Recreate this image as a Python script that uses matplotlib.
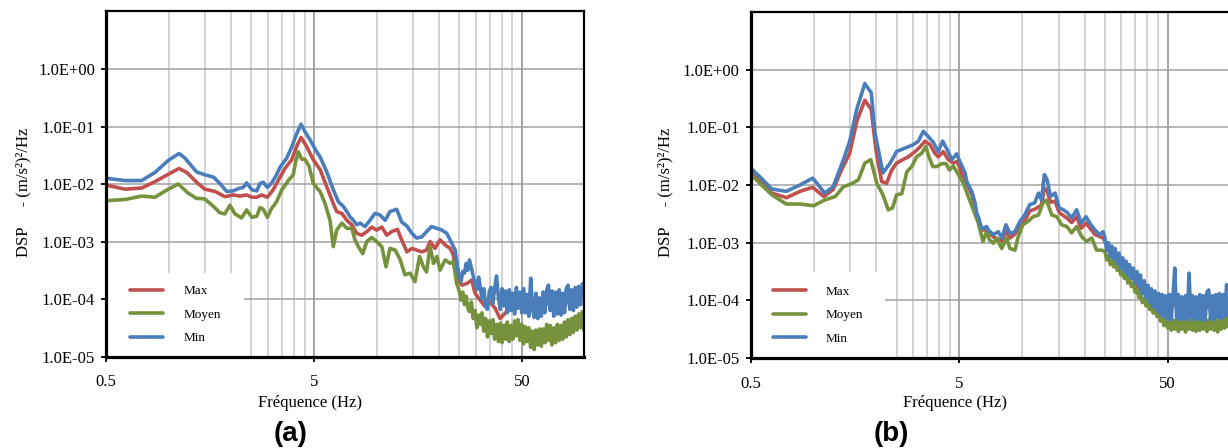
import numpy as np
import matplotlib
matplotlib.use("Agg")
import matplotlib.pyplot as plt
from matplotlib.patches import Rectangle
from matplotlib.ticker import FixedLocator, FixedFormatter, NullLocator, NullFormatter

plt.rcParams['font.family'] = ['Liberation Serif', 'DejaVu Serif']

# ---------------- data ----------------
# low/mid frequency part: (frequency Hz, log10 DSP) pairs
# high frequency part: log10 DSP on the shared frequency list hf_freq
series_labels = ["Max", "Moyen", "Min"]
series_colors = ["#C0504D", "#76923C", "#4A7EBB"]
panel_labels = ["(a)", "(b)"]

x_tick_values = [0.5, 5, 50]
x_tick_labels = ["0.5", "5", "50"]
y_tick_values = [1e-5, 1e-4, 1e-3, 1e-2, 1e-1, 1e0]
y_tick_labels = ["1.0E-05", "1.0E-04", "1.0E-03", "1.0E-02", "1.0E-01", "1.0E+00"]
x_minor_grid = [1, 1.5, 2, 2.5, 3, 3.5, 4, 4.5, 10, 15, 20, 25, 30, 35, 40, 45]

hf_freq = [25.0, 25.5, 26.0, 26.5, 27.0, 27.5, 28.0, 28.6, 29.2, 29.8,
           30.4, 31.0, 31.6, 32.2, 32.8, 33.5, 34.2, 34.9, 35.6, 36.3,
           37.0, 37.8, 38.6, 39.4, 40.2, 41.0, 41.8, 42.6, 43.5, 44.4,
           45.3, 46.2, 47.1, 48.0, 49.0, 50.0, 51.0, 52.0, 53.0, 54.1,
           55.2, 56.3, 57.4, 58.5, 59.7, 60.9, 62.1, 63.3, 64.6, 65.9,
           67.2, 68.5, 69.9, 71.3, 72.7, 74.2, 75.7, 77.2, 78.7, 80.3,
           81.9, 83.5, 85.2, 86.9, 88.6, 90.4, 92.2, 94.0, 95.9, 97.8,
           99.7]

# ---- panel (a) ----
a_max = [(0.5, -2.02), (0.615, -2.09), (0.74, -2.07), (0.857, -1.96), (0.994, -1.83), (1.12, -1.73),
         (1.22, -1.80), (1.39, -2.00), (1.49, -2.09), (1.67, -2.13), (1.86, -2.22), (2.04, -2.19),
         (2.20, -2.21), (2.37, -2.19), (2.51, -2.23), (2.65, -2.23), (2.80, -2.19), (2.98, -2.23),
         (3.18, -2.10), (3.37, -1.93), (3.62, -1.73), (3.90, -1.58), (4.13, -1.34), (4.33, -1.19),
         (4.61, -1.35), (4.96, -1.58), (5.35, -1.75), (5.76, -2.05), (6.19, -2.34), (6.43, -2.48),
         (6.80, -2.51), (7.19, -2.63), (7.60, -2.71), (8.03, -2.86), (8.49, -2.89), (8.97, -2.83),
         (9.48, -2.75), (10.0, -2.80), (10.6, -2.75), (11.2, -2.89), (11.8, -2.83), (12.6, -2.79),
         (13.2, -2.97), (14.0, -3.18), (14.8, -3.12), (15.6, -3.15), (16.5, -3.18), (17.4, -3.15),
         (18.1, -3.00), (19.1, -3.12), (20.2, -2.97), (21.4, -3.06), (22.6, -3.12), (23.4, -3.23),
         (24.3, -3.61), (25.7, -3.76), (27.2, -3.73), (28.7, -3.67), (29.8, -3.90), (31.5, -4.02),
         (33.3, -4.13), (35.2, -4.05), (37.2, -4.16), (39.3, -4.34), (41.5, -4.25), (44.8, -4.12),
         (47.3, -4.05), (50.0, -4.15), (52.8, -4.10), (56.9, -4.20), (60.1, -4.25), (63.5, -4.15),
         (67.2, -4.05), (71.0, -4.18), (75.0, -4.10), (79.3, -4.15), (83.8, -4.02), (88.6, -4.08),
         (93.7, -3.98), (100, -3.90)]

a_moyen_low = [(0.5, -2.29), (0.615, -2.27), (0.74, -2.21), (0.857, -2.23), (0.994, -2.09), (1.11, -2.00),
               (1.24, -2.16), (1.36, -2.25), (1.49, -2.26), (1.64, -2.39), (1.76, -2.50), (1.86, -2.52),
               (1.97, -2.37), (2.08, -2.52), (2.24, -2.59), (2.37, -2.45), (2.51, -2.58), (2.65, -2.56),
               (2.75, -2.41), (2.85, -2.44), (2.98, -2.58), (3.13, -2.42), (3.30, -2.31), (3.50, -2.10),
               (3.76, -1.94), (3.97, -1.84), (4.08, -1.61), (4.20, -1.44), (4.36, -1.57), (4.52, -1.57),
               (4.73, -1.69), (4.96, -1.99), (5.25, -2.10), (5.35, -2.13), (5.65, -2.34), (5.97, -2.63),
               (6.19, -3.09), (6.43, -2.80), (6.80, -2.68), (7.19, -2.77), (7.60, -2.77), (7.87, -2.97),
               (8.17, -3.09), (8.58, -3.21), (8.97, -3.00), (9.48, -2.93), (10.0, -3.00), (10.6, -3.09),
               (11.1, -3.44), (11.6, -3.12), (12.3, -3.15), (13.0, -3.32), (13.7, -3.58), (14.5, -3.55),
               (15.3, -3.70), (16.1, -3.26), (16.8, -3.44), (17.4, -3.53), (18.1, -3.09), (18.8, -3.38),
               (19.5, -3.26), (20.2, -3.50), (21.4, -3.32), (22.6, -3.38), (23.4, -3.35), (24.3, -3.73)]
a_moyen_hf = [-3.86, -4.02, -3.88, -4.10, -3.95, -4.16, -4.22, -4.05, -4.34, -4.20,
              -4.50, -4.28, -4.44, -4.24, -4.56, -4.34, -4.66, -4.38, -4.60, -4.36,
              -4.70, -4.44, -4.74, -4.42, -4.76, -4.46, -4.70, -4.40, -4.74, -4.46,
              -4.70, -4.38, -4.64, -4.36, -4.72, -4.44, -4.78, -4.48, -4.74, -4.50,
              -4.84, -4.56, -4.88, -4.54, -4.80, -4.52, -4.82, -4.52, -4.76, -4.44,
              -4.72, -4.46, -4.80, -4.50, -4.76, -4.44, -4.72, -4.46, -4.70, -4.40,
              -4.66, -4.36, -4.62, -4.34, -4.58, -4.30, -4.54, -4.26, -4.50, -4.22,
              -4.55]

a_min_low = [(0.5, -1.90), (0.615, -1.94), (0.74, -1.94), (0.857, -1.80), (0.994, -1.59), (1.12, -1.47),
             (1.196, -1.55), (1.36, -1.79), (1.49, -1.84), (1.64, -1.88), (1.76, -1.99), (1.90, -2.13),
             (2.04, -2.12), (2.20, -2.07), (2.28, -2.06), (2.37, -1.98), (2.51, -2.10), (2.65, -2.12),
             (2.75, -1.99), (2.85, -1.97), (2.98, -2.06), (3.13, -1.98), (3.30, -1.84), (3.43, -1.71),
             (3.69, -1.55), (3.90, -1.36), (4.13, -1.12), (4.33, -0.96), (4.52, -1.09), (4.78, -1.23),
             (5.15, -1.44), (5.35, -1.53), (5.76, -1.79), (6.19, -2.10), (6.55, -2.31), (6.92, -2.39),
             (7.19, -2.48), (7.45, -2.57), (7.73, -2.63), (8.03, -2.71), (8.33, -2.68), (8.80, -2.74),
             (9.30, -2.63), (9.83, -2.51), (10.4, -2.54), (11.0, -2.63), (11.6, -2.48), (12.5, -2.44),
             (13.2, -2.66), (14.0, -2.73), (14.8, -2.86), (15.6, -2.94), (16.5, -2.92), (17.4, -2.83),
             (18.4, -2.74), (19.5, -2.77), (20.6, -2.80), (21.8, -2.86), (23.0, -3.03), (23.9, -3.15),
             (24.8, -3.55)]
a_min_hf = [-3.58, -3.70, -3.52, -3.55, -3.38, -3.50, -3.32, -3.46, -3.60, -3.74,
            -3.84, -3.62, -3.80, -4.00, -3.82, -4.12, -4.18, -3.86, -3.80, -4.08,
            -3.82, -3.60, -3.98, -4.18, -3.82, -4.12, -3.86, -4.24, -3.84, -4.20,
            -3.90, -4.26, -3.80, -4.16, -3.88, -4.24, -3.82, -4.24, -3.92, -4.30,
            -3.64, -4.16, -4.32, -3.90, -4.34, -3.98, -4.30, -3.88, -4.24, -3.84,
            -3.76, -4.20, -3.86, -4.30, -3.88, -4.26, -3.84, -4.28, -3.90, -4.24,
            -3.82, -3.76, -4.18, -3.84, -4.20, -3.80, -4.14, -3.78, -4.10, -3.74,
            -3.72]

# ---- panel (b) ----
b_max = [(0.5, -1.78), (0.63, -2.14), (0.74, -2.22), (0.86, -2.11), (0.99, -2.04), (1.12, -2.20),
         (1.24, -2.08), (1.36, -1.74), (1.49, -1.45), (1.61, -0.90), (1.76, -0.53), (1.89, -0.69),
         (1.99, -1.39), (2.12, -1.94), (2.24, -1.97), (2.37, -1.74), (2.50, -1.62), (2.65, -1.57),
         (2.85, -1.51), (3.07, -1.42), (3.24, -1.34), (3.42, -1.24), (3.62, -1.30), (3.82, -1.45),
         (3.96, -1.51), (4.19, -1.42), (4.43, -1.56), (4.68, -1.62), (4.89, -1.59), (5.23, -1.88),
         (5.43, -1.98), (5.74, -2.16), (6.06, -2.52), (6.40, -2.78), (6.77, -2.78), (7.28, -2.90),
         (7.99, -2.97), (8.38, -2.80), (8.75, -2.92), (9.25, -2.85), (9.78, -2.72), (10.3, -2.62),
         (10.9, -2.45), (11.5, -2.42), (12.4, -2.35), (12.8, -2.05), (13.2, -2.10), (13.7, -2.30),
         (14.4, -2.28), (15.1, -2.48), (16.5, -2.58), (17.3, -2.65), (18.3, -2.55), (19.2, -2.75),
         (20.3, -2.66), (22.4, -2.86), (24.5, -2.92), (27.4, -3.25), (30.6, -3.48), (34.2, -3.62),
         (37.9, -3.88), (41.9, -3.92), (46.8, -4.05), (52.3, -4.08), (59.4, -4.10), (66.3, -4.12),
         (74.1, -4.10), (82.8, -4.15), (92.4, -4.05), (100, -3.98)]

b_moyen_low = [(0.5, -1.82), (0.63, -2.17), (0.74, -2.33), (0.86, -2.33), (1.00, -2.36), (1.13, -2.26),
               (1.27, -2.20), (1.39, -2.03), (1.52, -1.98), (1.64, -1.91), (1.76, -1.62), (1.88, -1.56),
               (2.01, -1.97), (2.15, -2.17), (2.28, -2.43), (2.39, -2.40), (2.50, -2.17), (2.65, -2.15),
               (2.80, -1.77), (2.96, -1.68), (3.12, -1.51), (3.30, -1.45), (3.46, -1.33), (3.55, -1.48),
               (3.73, -1.68), (3.90, -1.68), (4.12, -1.63), (4.32, -1.63), (4.48, -1.74), (4.68, -1.67),
               (4.95, -1.82), (5.23, -1.97), (5.52, -2.20), (5.84, -2.43), (6.17, -2.66), (6.50, -2.98),
               (6.77, -2.80), (6.97, -2.95), (7.28, -3.01), (7.56, -2.92), (7.99, -3.10), (8.44, -2.92),
               (8.75, -3.10), (9.25, -3.13), (9.60, -2.89), (10.1, -2.69), (10.7, -2.63), (11.3, -2.55),
               (12.0, -2.52), (12.6, -2.31), (13.1, -2.26), (13.9, -2.52), (14.7, -2.55), (15.5, -2.69),
               (16.4, -2.72), (17.3, -2.83), (18.3, -2.72), (19.3, -2.89), (20.4, -2.98), (21.6, -2.92),
               (22.8, -3.13), (24.1, -3.13)]
b_moyen_hf = [-3.15, -3.30, -3.22, -3.38, -3.28, -3.42, -3.34, -3.48, -3.40, -3.56,
              -3.48, -3.62, -3.55, -3.70, -3.62, -3.76, -3.70, -3.86, -3.80, -3.95,
              -3.88, -4.04, -3.96, -4.10, -4.02, -4.16, -4.08, -4.22, -4.14, -4.28,
              -4.22, -4.36, -4.26, -4.44, -4.30, -4.48, -4.32, -4.52, -4.34, -4.50,
              -4.32, -4.54, -4.36, -4.50, -4.32, -4.55, -4.35, -4.50, -4.30, -4.52,
              -4.34, -4.54, -4.32, -4.52, -4.34, -4.50, -4.32, -4.54, -4.34, -4.50,
              -4.32, -4.52, -4.34, -4.55, -4.35, -4.50, -4.32, -4.48, -4.28, -4.46,
              -4.26]

b_min_low = [(0.5, -1.71), (0.56, -1.88), (0.63, -2.07), (0.74, -2.11), (0.86, -2.00), (0.99, -1.88),
             (1.13, -2.14), (1.24, -2.03), (1.39, -1.56), (1.49, -1.24), (1.61, -0.69), (1.76, -0.24),
             (1.89, -0.40), (1.97, -1.10), (2.15, -1.79), (2.33, -1.62), (2.50, -1.42), (2.74, -1.36),
             (3.01, -1.30), (3.18, -1.24), (3.36, -1.07), (3.55, -1.16), (3.75, -1.26), (3.96, -1.42),
             (4.16, -1.24), (4.38, -1.39), (4.60, -1.56), (4.86, -1.46), (5.04, -1.60), (5.33, -1.79),
             (5.43, -1.94), (5.63, -2.05), (5.74, -2.11), (5.95, -2.31), (6.06, -2.49), (6.17, -2.55),
             (6.40, -2.75), (6.52, -2.75), (6.77, -2.72), (6.89, -2.78), (7.28, -2.86), (7.69, -2.81),
             (7.99, -2.92), (8.38, -2.69), (8.75, -2.84), (9.25, -2.81), (9.78, -2.63), (10.3, -2.52),
             (10.9, -2.34), (11.5, -2.31), (12.0, -2.14), (12.4, -2.26), (12.8, -1.82), (13.2, -1.91),
             (13.7, -2.20), (14.4, -2.14), (15.1, -2.40), (15.8, -2.43), (16.5, -2.48), (17.3, -2.57),
             (18.3, -2.43), (19.2, -2.66), (20.3, -2.55), (21.4, -2.69), (22.4, -2.78), (23.5, -2.86),
             (24.5, -2.81)]
b_min_hf = [-2.92, -3.14, -3.00, -3.24, -3.06, -3.28, -3.10, -3.36, -3.18, -3.44,
            -3.26, -3.50, -3.32, -3.56, -3.38, -3.62, -3.44, -3.70, -3.50, -3.76,
            -3.56, -3.88, -3.66, -3.96, -3.74, -4.04, -3.80, -4.12, -3.84, -4.18,
            -3.88, -4.24, -3.90, -4.28, -3.92, -4.32, -3.90, -4.34, -3.94, -3.44,
            -4.30, -3.90, -4.34, -3.94, -4.32, -3.92, -4.34, -3.53, -4.28, -3.92,
            -4.34, -3.94, -4.32, -3.90, -4.34, -3.92, -4.34, -3.86, -3.82, -4.32,
            -3.92, -4.34, -3.90, -4.30, -3.88, -4.32, -3.90, -4.28, -3.73, -4.24,
            -3.85]


def series(low_pairs, hf_values=None):
    f = [p[0] for p in low_pairs]
    e = [p[1] for p in low_pairs]
    if hf_values is not None:
        for fr, val in zip(hf_freq, hf_values):
            f.append(fr)
            e.append(val)
    return np.array(f), 10.0 ** np.array(e)


panels = [
    [series(a_max), series(a_moyen_low, a_moyen_hf), series(a_min_low, a_min_hf)],
    [series(b_max), series(b_moyen_low, b_moyen_hf), series(b_min_low, b_min_hf)],
]

# ---------------- figure ----------------
W, H = 1228, 448
fig = plt.figure(figsize=(W / 100, H / 100), dpi=100)

# axes rectangles in pixels: (left, top, right, bottom)
axes_px = [(106.3, 11.5, 584.3, 356.5), (750.9, 12.0, 1230.4, 358.0)]
legend_box_px = [(244, 273), (885, 272)]
ylabel_px = [(23, 192), (665, 192)]
xlabel_px = [(310, 402.5), (955, 402.5)]
plabel_px = [(291, 441), (891, 441)]

for p, (l, t, r, b) in enumerate(axes_px):
    ax = fig.add_axes([l / W, 1 - b / H, (r - l) / W, (b - t) / H])
    ax.set_xscale('log')
    ax.set_yscale('log')
    ax.set_xlim(0.5, 100)
    ax.set_ylim(1e-5, 1e1)
    ax.set_axisbelow(True)

    for (f, v), lab, col, z in zip(panels[p], series_labels, series_colors, [2.0, 2.1, 2.2]):
        ax.plot(f, v, color=col, lw=2.6, label=lab, zorder=z,
                solid_joinstyle='round', solid_capstyle='round')

    ax.xaxis.set_major_locator(FixedLocator(x_tick_values))
    ax.xaxis.set_major_formatter(FixedFormatter(x_tick_labels))
    ax.xaxis.set_minor_locator(FixedLocator(x_minor_grid))
    ax.xaxis.set_minor_formatter(NullFormatter())
    ax.yaxis.set_major_locator(FixedLocator(y_tick_values))
    ax.yaxis.set_major_formatter(FixedFormatter(y_tick_labels))
    ax.yaxis.set_minor_locator(NullLocator())

    ax.grid(which='major', axis='y', color='#a0a0a0', lw=1.1)
    ax.grid(which='major', axis='x', color='#8c8c8c', lw=1.1)
    ax.grid(which='minor', axis='x', color='#c8c8c8', lw=1.1)

    ax.tick_params(which='major', direction='out', length=3.6, width=1.3, labelsize=12,
                   colors='black')
    ax.tick_params(axis='x', which='major', pad=9)
    ax.tick_params(axis='y', which='major', pad=4.5)
    ax.tick_params(which='minor', length=0)

    for side in ['left', 'bottom']:
        ax.spines[side].set_linewidth(2.3)
    for side in ['top', 'right']:
        ax.spines[side].set_linewidth(1.6)

    # white legend area covering the grid
    lx, ly = legend_box_px[p]
    bw = (lx - l) / (r - l)
    bh = (b - ly) / (b - t)
    ax.add_patch(Rectangle((0, 0), bw, bh, transform=ax.transAxes, facecolor='white',
                           edgecolor='none', zorder=1.0))
    leg = ax.legend(loc='center', bbox_to_anchor=(bw / 2 + 0.001, bh / 2), frameon=False,
                    fontsize=9.5, handlelength=2.5, handletextpad=1.5, labelspacing=0.85,
                    borderpad=0, borderaxespad=0)
    for line in leg.get_lines():
        line.set_linewidth(2.6)

    yx, yy = ylabel_px[p]
    fig.text(yx / W, 1 - yy / H, "DSP     - (m/s²)²/Hz", rotation=90, ha='center',
             va='center', fontsize=12)
    xx, xy = xlabel_px[p]
    fig.text(xx / W, 1 - xy / H, "Fréquence (Hz)", ha='center', va='center', fontsize=12)
    px_, py_ = plabel_px[p]
    fig.text(px_ / W, 1 - py_ / H, panel_labels[p], ha='center', va='baseline', fontsize=20,
             fontweight='bold', family=['Liberation Sans', 'DejaVu Sans'])

fig.savefig("out.png", dpi=100)
